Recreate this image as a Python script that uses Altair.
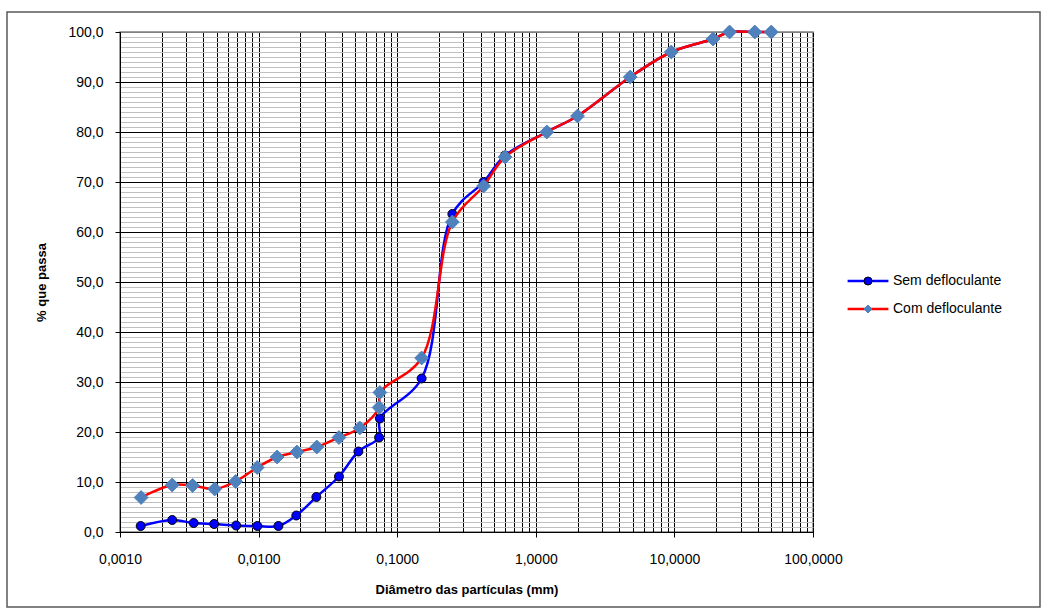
import altair as alt
import pandas as pd

# ---- data ----
series_names = ["Sem defloculante", "Com defloculante"]
series_codes = ["sem", "com"]

sem_d = [0.00141, 0.00238, 0.0034, 0.00478, 0.00689, 0.0098, 0.0139, 0.0187, 0.0261,
         0.038, 0.0525, 0.074, 0.075, 0.15, 0.25, 0.42, 0.6, 1.2, 2.0, 4.8, 9.5,
         19.0, 25.0, 38.0, 50.0]
sem_p = [1.2, 2.4, 1.8, 1.6, 1.3, 1.2, 1.2, 3.3, 7.0, 11.1, 16.1, 18.9, 22.7, 30.7,
         63.6, 70.0, 75.3, 80.0, 83.2, 91.0, 96.0, 98.6, 100.0, 100.0, 100.0]

com_d = [0.00142, 0.00238, 0.00334, 0.00482, 0.00683, 0.00977, 0.0136, 0.0189, 0.0263,
         0.038, 0.0537, 0.074, 0.075, 0.15, 0.25, 0.42, 0.6, 1.2, 2.0, 4.8, 9.5,
         19.0, 25.0, 38.0, 50.0]
com_p = [6.9, 9.4, 9.3, 8.6, 10.1, 12.9, 15.0, 16.0, 17.0, 18.9, 20.8, 24.9, 27.9, 34.8,
         62.0, 69.2, 75.0, 80.0, 83.2, 91.0, 96.0, 98.6, 100.0, 100.0, 100.0]

x_ticks = [m * 10.0 ** k for k in range(-3, 2) for m in range(1, 10)] + [100.0]
y_ticks = list(range(0, 101))

# ---- styles ----
line_colors = ["#0000FF", "#FF0000"]
marker_fill = ["#0000FF", "#4F81BD"]
marker_stroke = ["#000000", "#4F81BD"]
marker_shapes = ["circle", "diamond"]
FONT = "Liberation Sans"

rows = []
for code, name, ds, ps in ((series_codes[0], series_names[0], sem_d, sem_p),
                           (series_codes[1], series_names[1], com_d, com_p)):
    for i, (d, p) in enumerate(zip(ds, ps)):
        rows.append({"serie": code, "marcador": name, "idx": i, "d": d, "p": p})
df = pd.DataFrame(rows)

decade = "abs(log(datum.value)/LN10 - round(log(datum.value)/LN10)) < 0.000001"

x_enc = alt.X(
    "d:Q",
    scale=alt.Scale(type="log", domain=[0.001, 100], nice=False),
    axis=alt.Axis(
        values=x_ticks,
        title="Diâmetro das partículas (mm)",
        labelExpr=f"({decade}) ? replace(format(datum.value, '.4f'), '.', ',') : ''",
        labelOverlap=False, labelFlush=False, labelBound=False,
        labelFont=FONT, labelFontSize=14, labelColor="#000000", labelPadding=15,
        titleFont=FONT, titleFontSize=13, titleFontWeight="bold", titleColor="#000000",
        titlePadding=17,
        grid=True, gridColor="#000000", gridWidth=1, gridOpacity=1,
        domainColor="#000000", domainWidth=1,
        tickSize=5, tickWidth=1,
        tickColor={"condition": {"test": decade, "value": "#000000"}, "value": "transparent"},
    ),
)

y_enc = alt.Y(
    "p:Q",
    scale=alt.Scale(domain=[0, 100], nice=False, zero=True),
    axis=alt.Axis(
        values=y_ticks,
        title="% que passa",
        labelExpr="datum.value % 10 === 0 ? replace(format(datum.value, '.1f'), '.', ',') : ''",
        labelOverlap=False, labelFlush=False, labelBound=False,
        labelFont=FONT, labelFontSize=14, labelColor="#000000", labelPadding=12,
        titleFont=FONT, titleFontSize=13, titleFontWeight="bold", titleColor="#000000",
        titleAngle=270, titleX=-79, titleY=250, titleAlign="center", titleBaseline="middle",
        grid=True, gridWidth=1, gridOpacity=1,
        gridColor={"condition": [
            {"test": "datum.value === 100", "value": "#808080"},
            {"test": "datum.value % 10 === 0", "value": "#000000"}],
            "value": "#c0c0c0"},
        domainColor="#000000", domainWidth=1,
        tickSize=5, tickWidth=1,
        tickColor={"condition": {"test": "datum.value % 10 === 0", "value": "#000000"},
                   "value": "transparent"},
    ),
)

legend_common = dict(
    title=None, orient="none", legendX=724.5, legendY=242, padding=0,
    symbolSize=64, symbolOffset=16.5, labelOffset=18,
    labelFont=FONT, labelFontSize=14, labelColor="#000000",
    rowPadding=14,
)

# line-symbol legend (labels are drawn by the marker legend placed on top of it)
color_enc = alt.Color(
    "serie:N",
    scale=alt.Scale(domain=series_codes, range=line_colors),
    legend=alt.Legend(symbolType="M-5.1,0L5.1,0", symbolStrokeWidth=2.5,
                      labelExpr="''", **legend_common),
)
shape_enc = alt.Shape("marcador:N", scale=alt.Scale(domain=series_names, range=marker_shapes),
                      legend=alt.Legend(symbolStrokeWidth=1, **legend_common))
fill_enc = alt.Fill("marcador:N", scale=alt.Scale(domain=series_names, range=marker_fill),
                    legend=alt.Legend(symbolStrokeWidth=1, **legend_common))
stroke_enc = alt.Stroke("marcador:N", scale=alt.Scale(domain=series_names, range=marker_stroke),
                        legend=alt.Legend(symbolStrokeWidth=1, **legend_common))

base = alt.Chart(df)


def line_layer(code):
    return base.transform_filter(alt.datum.serie == code).mark_line(
        interpolate="catmull-rom", strokeWidth=2.5
    ).encode(x=x_enc, y=y_enc, order="idx:Q", color=color_enc)


def point_layer(code, size):
    return base.transform_filter(alt.datum.serie == code).mark_point(
        filled=True, size=size, strokeWidth=1, opacity=1
    ).encode(x=x_enc, y=y_enc, shape=shape_enc, fill=fill_enc, stroke=stroke_enc)


frame = alt.Chart(pd.DataFrame({"k": [0]})).mark_rect(
    fill="transparent", stroke="#595959", strokeWidth=1.5
).encode(x=alt.value(-113), x2=alt.value(920), y=alt.value(-20), y2=alt.value(575))

chart = alt.layer(
    frame,
    line_layer(series_codes[0]),
    point_layer(series_codes[0], 80),
    line_layer(series_codes[1]),
    point_layer(series_codes[1], 190),
).properties(
    width=693, height=500,
    autosize=alt.AutoSizeParams(type="none"),
    padding={"left": 120, "top": 32, "right": 235, "bottom": 82},
    background="#FFFFFF",
).configure_view(stroke="#808080", strokeWidth=1.5)

chart.save("out.html", embed_options={"renderer": "svg", "actions": False})
